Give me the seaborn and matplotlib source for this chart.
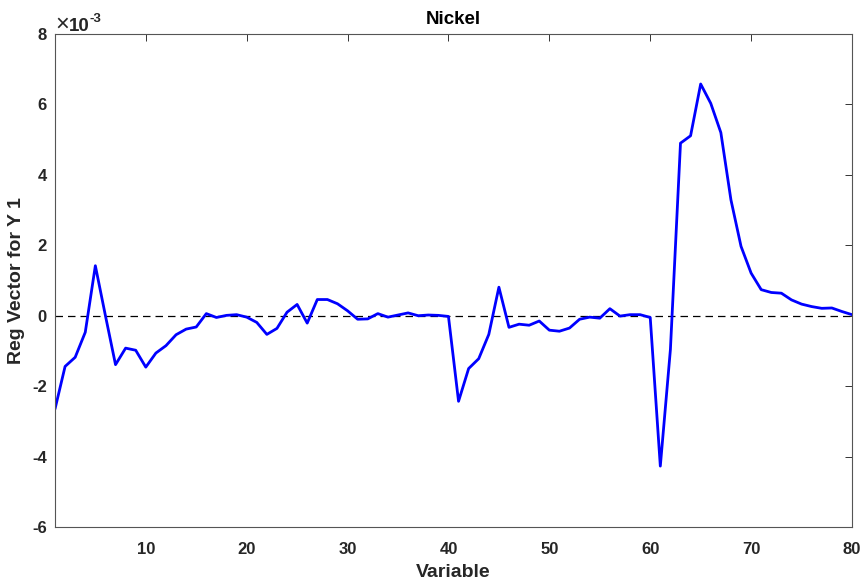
import numpy as np
import pandas as pd
import matplotlib
matplotlib.use("Agg")
import matplotlib.pyplot as plt
import seaborn as sns
from matplotlib.ticker import FuncFormatter

# Data (regression vector values, in units of 1e-3)
variable = list(range(1, 81))
reg_vector_e3 = [
    -2.65, -1.44, -1.18, -0.47, 1.42, 0.00, -1.39, -0.92, -0.98, -1.46,
    -1.06, -0.85, -0.54, -0.38, -0.32, 0.06, -0.05, 0.01, 0.03, -0.04,
    -0.19, -0.53, -0.36, 0.10, 0.32, -0.21, 0.46, 0.46, 0.34, 0.14,
    -0.10, -0.09, 0.06, -0.04, 0.02, 0.08, 0.00, 0.02, 0.01, -0.02,
    -2.43, -1.50, -1.22, -0.53, 0.81, -0.33, -0.24, -0.27, -0.15, -0.41,
    -0.44, -0.35, -0.10, -0.04, -0.07, 0.20, -0.01, 0.03, 0.03, -0.05,
    -4.27, -0.96, 4.90, 5.11, 6.58, 6.03, 5.20, 3.29, 1.97, 1.21,
    0.74, 0.66, 0.64, 0.45, 0.33, 0.26, 0.21, 0.22, 0.12, 0.03,
]
x_ticks = [10, 20, 30, 40, 50, 60, 70, 80]
y_ticks_e3 = [-6, -4, -2, 0, 2, 4, 6, 8]

df = pd.DataFrame({"Variable": variable,
                   "Reg": np.array(reg_vector_e3) * 1e-3})

sns.set_theme(style="white")
plt.rcParams["font.family"] = ["Liberation Sans", "DejaVu Sans"]
plt.rcParams["axes.unicode_minus"] = False

fig = plt.figure(figsize=(8.62, 5.85), dpi=100)
ax = fig.add_axes([0.0638, 0.0991, 0.9246, 0.8428])

ax.axhline(0, color="black", linestyle=(0, (6, 4)), linewidth=0.9, zorder=1)
sns.lineplot(data=df, x="Variable", y="Reg", ax=ax, color=(0, 0, 1),
             linewidth=2.0, zorder=2)

ax.set_xlim(1, 80)
ax.set_ylim(-6e-3, 8e-3)
ax.set_xticks(x_ticks)
ax.set_yticks(np.array(y_ticks_e3) * 1e-3)
ax.yaxis.set_major_formatter(FuncFormatter(lambda v, p: f"{round(v * 1e3):d}"))

spine_col = "#555555"
for s in ax.spines.values():
    s.set_visible(True)
    s.set_color(spine_col)
    s.set_linewidth(0.8)

ax.tick_params(axis="both", which="major", direction="in", length=5,
               width=0.7, color="#333333", labelsize=12,
               labelcolor="#262626", top=True, right=True)
ax.tick_params(axis="x", pad=11)
ax.tick_params(axis="y", pad=6)
for lbl in ax.get_xticklabels() + ax.get_yticklabels():
    lbl.set_fontweight("bold")

# exponent label
ax.text(0.001, 0.997, "\u00d7", transform=ax.transAxes, ha="left", va="bottom",
        fontsize=17, color="#262626")
ax.text(0.0175, 0.998, "10", transform=ax.transAxes, ha="left", va="bottom",
        fontsize=13.5, fontweight="bold", color="#262626")
ax.text(0.0430, 1.019, "-3", transform=ax.transAxes, ha="left", va="bottom",
        fontsize=9.5, fontweight="bold", color="#262626")

ax.set_xlabel("Variable", fontsize=14, fontweight="bold", color="#262626",
              labelpad=5)
ax.set_ylabel("Reg Vector for Y 1", fontsize=14, fontweight="bold",
              color="#262626", labelpad=5)
ax.set_title("Nickel", fontsize=13.5, fontweight="bold", color="black", pad=7)

fig.savefig("out.png", dpi=100)
